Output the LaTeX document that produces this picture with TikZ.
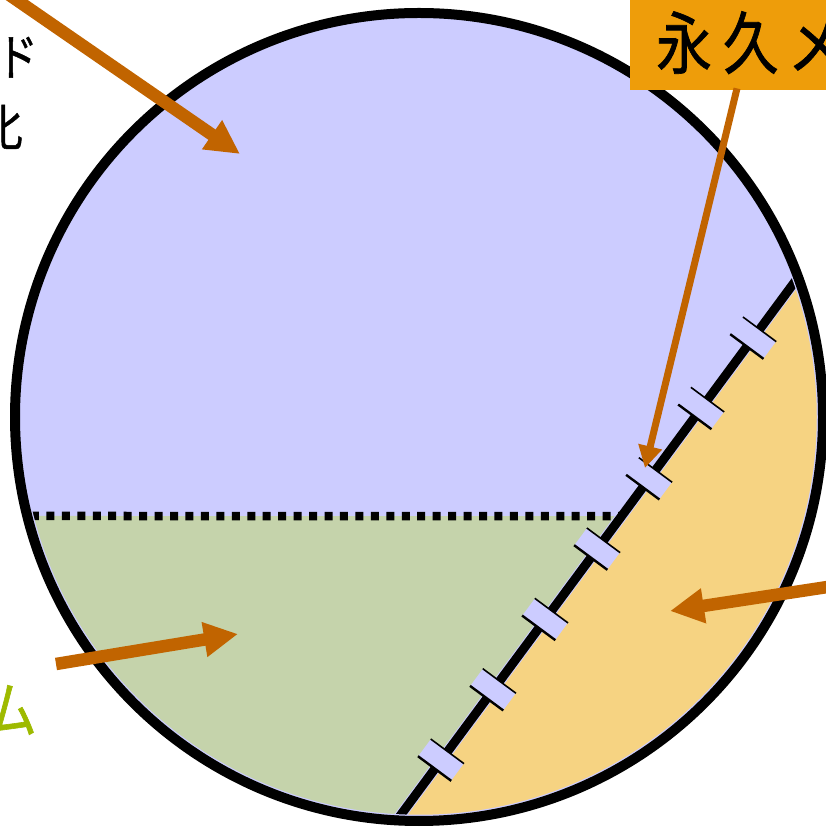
\documentclass[tikz,border=0pt]{standalone}
\usepackage{fontspec}
\newfontfamily\jp[FakeStretch=0.82,FakeBold=1]{Noto Sans CJK JP}
\usetikzlibrary{arrows.meta,calc}
\definecolor{blueF}{RGB}{204,204,255}
\definecolor{greenF}{RGB}{197,211,171}
\definecolor{orangeF}{RGB}{246,211,130}
\definecolor{arrowC}{RGB}{193,100,0}
\definecolor{boxC}{RGB}{238,157,10}
\definecolor{limeT}{RGB}{158,186,0}
\begin{document}
\begin{tikzpicture}[x=1pt,y=1pt,
  tickbox/.style={rectangle, fill=blueF, draw=none, minimum width=21pt, minimum height=41pt, inner sep=0pt},
  bigarrow/.style={color=arrowC, line width=12.5pt, -{Triangle[length=34pt,width=33pt]}},
  thinarrow/.style={color=arrowC, line width=7pt, -{Triangle[length=22pt,width=23pt]}},
  dotline/.style={line width=8.5pt, dash pattern=on 8pt off 7.45pt},
  jptext/.style={inner sep=0pt, font=\jp}]
\useasboundingbox (0,0) rectangle (825,827);
\coordinate (C) at (419,410);
\def\R{404}
\coordinate (P1) at (802,555);
\coordinate (P2) at (397,7);
\coordinate (Q1) at ($(P1)!-0.2!(P2)$);
\coordinate (Q2) at ($(P2)!-0.2!(P1)$);
\coordinate (D) at ($(P1)!0.4453!(P2)$);
% regions
\fill[blueF] (C) circle (\R);
\begin{scope}
  \clip (C) circle (\R);
  \fill[orangeF] (Q1) -- (Q2) -- (900,-120) -- (900,720) -- cycle;
  \fill[greenF] (0,311) -- (D) -- (Q2) -- (0,-120) -- cycle;
  \draw[blueF, line width=11pt] (Q1) -- (Q2);
  \draw[line width=9pt] (Q1) -- (Q2);
  \draw[dotline] (15.5,311) -- (D);
  \foreach \k in {0,...,6} {
    \pgfmathsetmacro\s{82+87.5*\k}
    \node[tickbox, rotate=53.5] (t\k) at ($(P1)+(233.5:\s)$) {};
    \draw[line width=1.6pt] (t\k.north east) -- (t\k.south east);
    \draw[line width=2.4pt] (t\k.north west) -- (t\k.south west);
  }
\end{scope}
\draw[blueF, line width=1.5pt] (C) circle (\R-5.5);
\draw[line width=10pt] (C) circle (\R);
% labels
\node[jptext, font=\jp\fontsize{50pt}{56pt}\selectfont, anchor=east] (lab1) at (38,769) {ッ\kern12ptド};
\node[jptext, font=\jp\fontsize{50pt}{56pt}\selectfont, anchor=east] (lab2) at (23,700) {化};
\node[jptext, font=\jp\fontsize{62pt}{66pt}\selectfont, text=limeT, anchor=east] (lab3) at (37,117) {ム};
\node[fill=boxC, anchor=north west, minimum height=95pt, text width=260pt, inner xsep=26pt, inner ysep=0pt, align=left, font=\jp\fontsize{68pt}{72pt}\selectfont] (box) at (630,832) {永\kern11pt久\kern9pt メ};
% arrows
\coordinate (a1s) at (8,833);
\coordinate (a1e) at (240,673);
\coordinate (a2e) at (645,359);
\coordinate (a3s) at (830,240.4);
\coordinate (a3e) at (670,216);
\coordinate (a4s) at (56,163);
\coordinate (a4e) at (238,193);
\draw[bigarrow] (a1s) -- (a1e);
\draw[thinarrow] ($(box.south west)+(107,2)$) -- (a2e);
\draw[bigarrow] (a3s) -- (a3e);
\draw[bigarrow] (a4s) -- (a4e);
\end{tikzpicture}
\end{document}
